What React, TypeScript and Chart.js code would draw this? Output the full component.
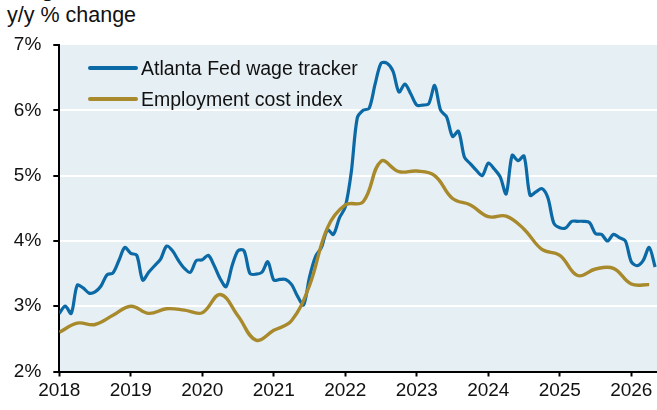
import React, { useEffect, useRef } from "react";
import { Chart, registerables } from "chart.js";

Chart.register(...registerables);

// Atlanta Fed wage tracker, monthly from Jan 2018 (y/y %)
const wageStartYear = 2018;
const wageValues = [
  2.89, 3.0, 2.89, 3.32, 3.28, 3.2, 3.22, 3.31, 3.48, 3.51, 3.7, 3.9,
  3.81, 3.78, 3.4, 3.52, 3.62, 3.72, 3.92, 3.85, 3.7, 3.58, 3.52, 3.7,
  3.71, 3.78, 3.62, 3.42, 3.3, 3.62, 3.85, 3.85, 3.5, 3.49, 3.52, 3.68,
  3.4, 3.41, 3.41, 3.33, 3.15, 3.02, 3.45, 3.76, 3.9, 4.17, 4.1, 4.35,
  4.52, 5.05, 5.88, 6.0, 6.03, 6.4, 6.72, 6.72, 6.6, 6.28, 6.4, 6.25,
  6.08, 6.08, 6.1, 6.38, 6.0, 5.9, 5.6, 5.68, 5.28, 5.18, 5.08, 5.0,
  5.19, 5.1, 4.98, 4.72, 5.31, 5.23, 5.3, 4.7, 4.75, 4.8, 4.66, 4.27,
  4.2, 4.2, 4.3, 4.3, 4.3, 4.28, 4.11, 4.1, 4.0, 4.1, 4.05, 4.0,
  3.68, 3.62, 3.7, 3.9, 3.6,
];

// Employment cost index, quarterly from 2018 (y/y %)
const eciStartYear = 2018;
const eciValues = [
  2.6, 2.74, 2.72, 2.86, 3.0, 2.89, 2.96, 2.94, 2.9, 3.18, 2.85, 2.48,
  2.63, 2.78, 3.32, 4.2, 4.55, 4.6, 5.22, 5.06, 5.07, 5.0, 4.65, 4.55,
  4.37, 4.38, 4.18, 3.87, 3.78, 3.47, 3.57, 3.58, 3.34, 3.33,
];

const yearTicks = [2018, 2019, 2020, 2021, 2022, 2023, 2024, 2025, 2026];
const pctTicks = [2, 3, 4, 5, 6, 7];

const seriesNames = ["Atlanta Fed wage tracker", "Employment cost index"];
const BLUE = "#0b69a6";
const GOLD = "#a88a2c";
const BG = "#e6eff3";
const FONT = "'Liberation Sans', Arial, sans-serif";

export default function App() {
  const ref = useRef<HTMLCanvasElement | null>(null);

  useEffect(() => {
    const canvas = ref.current;
    if (!canvas) return;
    const wageData = wageValues.map((v, i) => ({ x: wageStartYear + i / 12, y: v }));
    const eciData = eciValues.map((v, i) => ({ x: eciStartYear + i / 4, y: v }));

    const bgPlugin = {
      id: "plotBg",
      beforeDraw(chart: any) {
        const { ctx, chartArea } = chart;
        ctx.save();
        ctx.fillStyle = BG;
        ctx.fillRect(chartArea.left, chartArea.top, chartArea.right - chartArea.left, chartArea.bottom - chartArea.top);
        ctx.restore();
      },
    };

    const chart = new Chart(canvas, {
      type: "line",
      data: {
        datasets: [
          {
            label: seriesNames[0],
            data: wageData,
            borderColor: BLUE,
            borderWidth: 3.2,
            pointRadius: 0,
            tension: 0.3,
            order: 1,
          },
          {
            label: seriesNames[1],
            data: eciData,
            borderColor: GOLD,
            borderWidth: 3.4,
            pointRadius: 0,
            tension: 0.4,
            order: 0,
          },
        ],
      },
      options: {
        animation: false,
        responsive: false,
        devicePixelRatio: 1,
        layout: { padding: { top: 45, right: 0, left: 0, bottom: 0 } },
        plugins: { legend: { display: false }, tooltip: { enabled: false } },
        scales: {
          x: {
            type: "linear",
            min: 2018,
            max: 2018 + (657 - 59.3) / 71.5,
            afterBuildTicks: (axis: any) => {
              axis.ticks = yearTicks.map((v) => ({ value: v }));
            },
            afterFit: (axis: any) => {
              axis.height = 38.5;
            },
            ticks: {
              color: "#111",
              font: { family: FONT, size: 19 },
              padding: 3,
              maxRotation: 0,
              autoSkip: false,
              callback: (v: any) => String(v),
            },
            grid: {
              drawOnChartArea: false,
              drawTicks: true,
              tickLength: 5,
              tickColor: "#000",
              tickWidth: 2,
            },
            border: { display: true, color: "#000", width: 2 },
          },
          y: {
            min: 2,
            max: 7,
            afterBuildTicks: (axis: any) => {
              axis.ticks = pctTicks.map((v) => ({ value: v }));
            },
            afterFit: (axis: any) => {
              axis.width = 59.3;
            },
            ticks: {
              color: "#111",
              font: { family: FONT, size: 19 },
              padding: 12,
              callback: (v: any) => v + "%",
            },
            grid: {
              color: (c: any) => (c.tick && c.tick.value > 2 && c.tick.value < 7 ? "#ffffff" : "rgba(0,0,0,0)"),
              lineWidth: 2,
              drawTicks: true,
              tickLength: 6,
              tickColor: "#000",
              tickWidth: 2,
            },
            border: { display: true, color: "#000", width: 2 },
          },
        },
      },
      plugins: [bgPlugin],
    } as any);

    return () => chart.destroy();
  }, []);

  const legendRow = (name: string, color: string, top: number) => (
    <div style={{ position: "absolute", left: 88, top, height: 30, display: "flex", alignItems: "center" }}>
      <div style={{ width: 50, height: 3.5, background: color, borderRadius: 2 }} />
      <span style={{ marginLeft: 3, font: `19.5px ${FONT}`, color: "#111", whiteSpace: "nowrap" }}>{name}</span>
    </div>
  );

  return (
    <div style={{ position: "fixed", left: 0, top: 0, width: 657, height: 410, background: "#fff", overflow: "hidden" }}>
      <div style={{ position: "absolute", left: 41, top: -22, font: `bold 22px ${FONT}`, lineHeight: "22px", color: "#111" }}>g</div>
      <div style={{ position: "absolute", left: 7, top: 5, font: `21.5px ${FONT}`, lineHeight: "21.5px", color: "#111", whiteSpace: "nowrap" }}>
        y/y % change
      </div>
      <canvas ref={ref} width={657} height={410} style={{ position: "absolute", left: 0, top: 0, width: 657, height: 410 }} />
      {legendRow(seriesNames[0], BLUE, 53)}
      {legendRow(seriesNames[1], GOLD, 84)}
    </div>
  );
}
